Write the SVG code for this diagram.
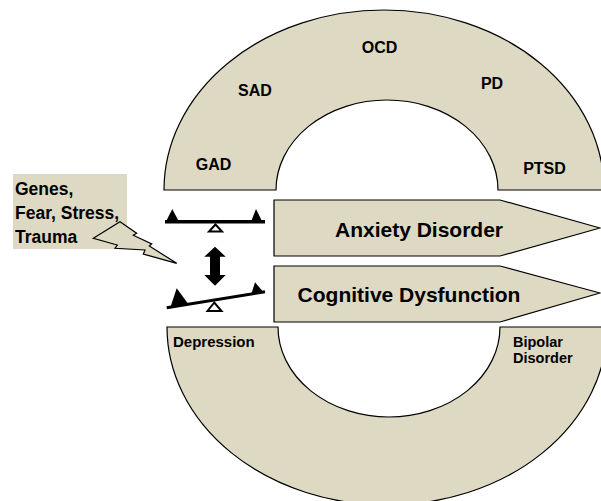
<svg xmlns="http://www.w3.org/2000/svg" width="601" height="501" viewBox="0 0 601 501">
<style>
.tan{fill:#ddd9c3;stroke:#000;stroke-width:1.2}
.lbl{font-family:"Liberation Sans",Arial,sans-serif;font-weight:bold;fill:#000}
.blk{fill:#000}
.open{fill:#fff;stroke:#000;stroke-width:2}
</style>
<rect width="601" height="501" fill="#fff"/>
<g id="anxiety-arch">
<path class="tan" d="M164,190 A220,180 0 0 1 604,190 L498,190 A111,90 0 0 0 276,190 Z"/>
<text class="lbl" font-size="16" x="213.5" y="170" text-anchor="middle">GAD</text>
<text class="lbl" font-size="16" x="255" y="96" text-anchor="middle">SAD</text>
<text class="lbl" font-size="16" x="379.5" y="53" text-anchor="middle">OCD</text>
<text class="lbl" font-size="16" x="492" y="89" text-anchor="middle">PD</text>
<text class="lbl" font-size="16" x="544.5" y="174" text-anchor="middle">PTSD</text>
</g>
<g id="mood-arch">
<path class="tan" d="M167,327 L278,327 A111,90 0 0 0 500,327 L607,327 A220,178 0 0 1 167,327 Z"/>
<text class="lbl" font-size="15" x="173" y="347">Depression</text>
<text class="lbl" font-size="14.5" x="513" y="346.5">Bipolar</text>
<text class="lbl" font-size="14.5" x="513" y="362.5">Disorder</text>
</g>
<g id="anxiety-disorder">
<path class="tan" d="M274,200 L500,200 L600,228 L500,256 L274,256 Z"/>
<text class="lbl" font-size="21" x="419" y="237" text-anchor="middle">Anxiety Disorder</text>
</g>
<g id="cognitive-dysfunction">
<path class="tan" d="M274,266 L500,266 L600,293 L500,322 L274,322 Z"/>
<text class="lbl" font-size="21" x="409" y="302" text-anchor="middle">Cognitive Dysfunction</text>
</g>
<g id="causes">
<rect x="13" y="174" width="114" height="75" fill="#ddd9c3"/>
<text class="lbl" font-size="17.5" x="15" y="195">Genes,</text>
<text class="lbl" font-size="17.5" x="15" y="219">Fear, Stress,</text>
<text class="lbl" font-size="17.5" x="15" y="243">Trauma</text>
<path class="tan" stroke-width="1" d="M120,221.7 L136.7,233.3 L133.3,235.3 L151.7,244 L149.3,246 L176.7,263.3 L143.3,254 L145,250 L115,248.3 L117.3,245 L93.3,238.3 Z"/>
</g>
<g id="balance-top">
<rect class="blk" x="165" y="220" width="100" height="3.5"/>
<polygon class="blk" points="166.5,220.5 172.3,209 178.3,220.5"/>
<polygon class="blk" points="251.5,220.5 256,209 261.7,220.5"/>
<polygon class="open" points="215.5,224.5 209,231.5 222,231.5"/>
</g>
<g id="balance-bottom">
<line x1="166.7" y1="307.7" x2="265" y2="291.7" stroke="#000" stroke-width="3"/>
<polygon class="blk" points="170.5,307 176.7,288.3 188.3,304"/>
<polygon class="blk" points="251.5,293.5 255,282.3 263.3,292"/>
<polygon class="open" points="214.3,302.5 207.5,311 221.5,311"/>
</g>
<g id="connectors">
<polygon class="blk" points="215,246.7 225.7,256.7 220,256.7 220,275 225.7,275 215,285.7 204.3,275 210,275 210,256.7 204.3,256.7"/>
</g>
</svg>
